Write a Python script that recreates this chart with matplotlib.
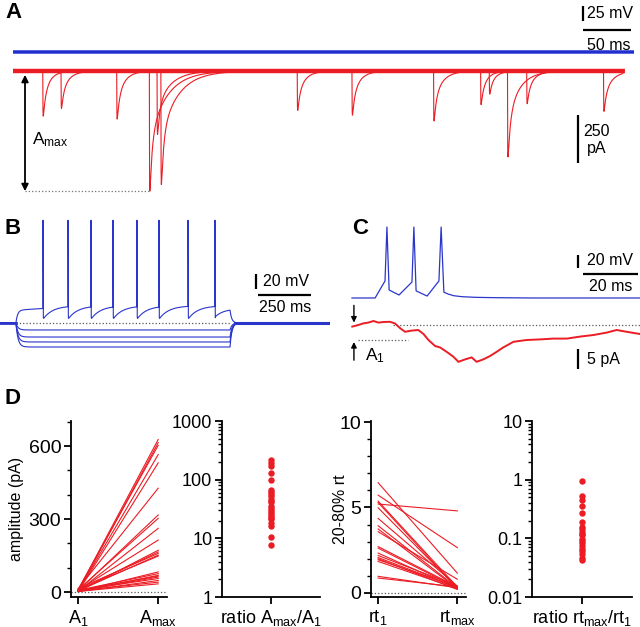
import matplotlib.pyplot as plt
import numpy as np
from matplotlib.ticker import MultipleLocator, LogLocator, NullFormatter

plt.rcParams['font.family'] = ['Liberation Sans', 'DejaVu Sans']
plt.rcParams['mathtext.fontset'] = 'custom'
plt.rcParams['mathtext.rm'] = 'Liberation Sans'
plt.rcParams['mathtext.it'] = 'Liberation Sans:italic'
plt.rcParams['mathtext.default'] = 'regular'

RED = '#ec1c24'
BLUE = '#1f2fd0'
BLUE_B = '#2a35cc'
W, H = 640, 627

# ---------------- data ----------------
# A: spontaneous EPSCs (ms, pA, slow decay ms, sweep index)
a_evt_time = [31, 296, 487, 515, 50, 142, 353, 535, 108, 154, 438, 496, 615, 150]
a_evt_amp = [235, 205, 175, 445, 195, 625, 230, 170, 250, 590, 260, 120, 210, 330]
a_evt_tau = [7, 8, 7, 12, 8, 18, 8, 8, 8, 18, 9, 7, 9, 14]
a_evt_sweep = [0, 0, 0, 0, 1, 1, 1, 1, 2, 2, 2, 2, 2, 3]
a_vm = -60

# B: current-clamp steps (ms, mV)
b_step = [75, 1085]
b_spike_times = [203, 321, 429, 533, 646, 750, 887, 1014]
b_spike_peak = 67
b_plateau = -53
b_ahp = -65
b_thr = -47
b_hyper = [-79.3, -88.7, -95.3, -102]
b_rest = -70

# C: burst and unitary EPSC (ms, mV / pA)
c_vm_t = [0, 8.4, 12.0, 12.7, 13.5, 17.1, 21.8, 22.5, 23.3, 27.3, 31.6, 32.4, 33.4,
          35, 37, 40, 45, 52, 65, 80, 104.7]
c_vm_v = [-65, -65, -38.8, 44.3, -52.7, -60.4, -40.4, 44.3, -54, -62, -38.8, 44.3, -56,
          -59, -61.5, -63, -64, -64.5, -65, -65, -65]
c_i_t = [0.1, 2.3, 4.1, 5.9, 7.8, 9.6, 11.4, 13.8, 15.6, 17.5, 19.3, 21.7, 24.1, 26.0,
         27.8, 30.2, 32.0, 34.4, 36.8, 38.7, 41.1, 43.5, 45.3, 47.7, 50.2, 52.6, 55.0,
         58.7, 63.5, 68.4, 73.2, 78.1, 82.9, 87.8, 92.6, 96.2, 99.9, 104.7]
c_i_v = [-0.4, 0, 0.4, 0.6, 1.0, 0.6, 0.75, 0.8, 0.4, -0.8, -1.7, -1.4, -1.25, -2.25,
         -3.75, -5.25, -5.6, -6.7, -7.9, -9.2, -8.6, -8.1, -9.2, -8.6, -7.75, -6.7, -5.6,
         -4.2, -3.75, -3.6, -3.4, -3.4, -2.9, -2.5, -1.9, -1.25, -1.7, -2.25]
c_a1 = -3.75

# D: amplitudes (pA), rise times (ms) and ratios
amp_1 = [8, 3, 12, 5, 2, 14, 6, 10, 4, 9, 3, 7, 15, 5, 11, 2, 8, 4, 6, 3, 7, 2, 5, 3]
amp_max = [627, 614, 603, 565, 531, 427, 317, 303, 262, 214, 172, 165, 159, 152, 148,
           83, 76, 69, 66, 62, 56, 48, 41, 34]
ratio_amp = [220, 193, 169, 130, 100, 67, 61, 53, 47, 41, 36, 31, 28, 24, 21, 16, 10.4,
             7.6, 58, 44, 33, 26, 22, 18]
rt_1 = [6.45, 5.72, 5.37, 5.29, 5.20, 4.98, 4.36, 3.93, 3.74, 3.58, 2.71, 2.62, 2.33,
        2.19, 2.07, 2.00, 1.94, 1.84, 0.97, 0.87]
rt_max = [1.16, 2.65, 0.35, 0.25, 4.80, 0.30, 0.40, 0.30, 0.25, 0.80, 0.35, 0.30, 0.25,
          0.40, 0.30, 0.20, 0.35, 0.25, 0.30, 0.35]
ratio_rt = [0.96, 0.52, 0.45, 0.36, 0.275, 0.19, 0.158, 0.143, 0.128, 0.112, 0.099,
            0.084, 0.074, 0.065, 0.055, 0.047, 0.043, 0.12, 0.09, 0.06]


def px_axes(fig, x0, y0, x1, y1):
    return fig.add_axes([x0 / W, 1 - y1 / H, (x1 - x0) / W, (y1 - y0) / H])


def bar(ax, xs, ys):
    ax.plot(xs, ys, color='k', lw=1.6, solid_capstyle='butt', clip_on=False)


fig = plt.figure(figsize=(6.4, 6.27), dpi=100)

# ---------------- A ----------------
ax_av = px_axes(fig, 13, 0, 640, 62)
ax_ai = px_axes(fig, 13, 62, 640, 200)
for ax in (ax_av, ax_ai):
    ax.set_xlim(0, 653)
    ax.axis('off')
ax_av.set_ylim(-76.7, 26.7)
ax_ai.set_ylim(-670.8, 46.8)

ta = np.arange(0, 645, 0.05)
ax_av.plot(ta, np.full_like(ta, a_vm), color=BLUE, lw=2.5)
bar(ax_av, [593.75, 593.75], [16.7, -8.3])
bar(ax_av, [594, 644], [-23.3, -23.3])
ax_av.text(598, 4.2, '25 mV', fontsize=11.5, va='center', ha='left')
ax_av.text(620, -50, '50 ms', fontsize=11.5, va='center', ha='center')

ti = ta[ta <= 635]
ax_ai.plot(ti, np.zeros_like(ti), color=RED, lw=3.2)
kgrid = np.arange(0, 3, 0.01)
for s in sorted(set(a_evt_sweep)):
    y = np.zeros_like(ti)
    for t0, amp, tau, sw in zip(a_evt_time, a_evt_amp, a_evt_tau, a_evt_sweep):
        if sw != s:
            continue
        kpk = ((1 - np.exp(-kgrid / 0.15)) * (0.5 * np.exp(-kgrid / 2.5) + 0.5 * np.exp(-kgrid / tau))).max()
        dt = ti - t0
        m = dt >= 0
        k = (1 - np.exp(-dt[m] / 0.15)) * (0.5 * np.exp(-dt[m] / 2.5) + 0.5 * np.exp(-dt[m] / tau))
        y[m] -= amp * k / kpk
    ax_ai.plot(ti, y, color=RED, lw=0.8)

ax_ai.annotate('', xy=(12.5, -625), xytext=(12.5, -20),
               arrowprops=dict(arrowstyle='<|-|>', color='k', lw=1.3,
                               shrinkA=0, shrinkB=0, mutation_scale=10))
ax_ai.plot([12.5, 142], [-625, -625], ls=':', color='0.45', lw=0.9)
ax_ai.text(20, -359, 'A$_{max}$', fontsize=12.5, va='center', ha='left')
bar(ax_ai, [588.5, 588.5], [-229, -479])
ax_ai.text(608, -359, '250\npA', fontsize=11.5, va='center', ha='center', linespacing=1.15)

# ---------------- B ----------------
ax_b = px_axes(fig, 0, 205, 330, 362)
ax_b.set_xlim(0, 1556.6)
ax_b.set_ylim(-122, 87.3)
ax_b.axis('off')
tb = np.arange(0, 1556, 0.5)
on, off = b_step
ax_b.plot(tb[tb < on + 2], np.full((tb < on + 2).sum(), b_rest), color=BLUE_B, lw=2.0)
ax_b.plot(tb[tb > off + 25], np.full((tb > off + 25).sum(), b_rest), color=BLUE_B, lw=2.2)
ax_b.plot([on, off], [b_rest, b_rest], ls=':', color='0.35', lw=0.9)

# hyperpolarising sweeps
for lvl in b_hyper:
    v = np.full_like(tb, b_rest)
    m = (tb >= on) & (tb < off)
    v[m] = b_rest + (lvl - b_rest) * (1 - np.exp(-(tb[m] - on) / 10))
    v_off = b_rest + (lvl - b_rest) * (1 - np.exp(-(off - on) / 10))
    m2 = tb >= off
    v[m2] = b_rest + (v_off - b_rest) * np.exp(-(tb[m2] - off) / 9)
    ax_b.plot(tb, v, color=BLUE_B, lw=0.8)

# depolarising sweep with spikes
seg_t, seg_v = [], []
t1 = np.arange(0, on, 0.5)
seg_t.append(t1); seg_v.append(np.full_like(t1, b_rest))
t2 = np.arange(on, b_spike_times[0], 0.5)
v2 = b_rest + (b_plateau - b_rest) * (1 - np.exp(-(t2 - on) / 8)) + \
    (b_thr - b_plateau) * (t2 - on) / (b_spike_times[0] - on) * 0.4
seg_t.append(t2); seg_v.append(v2)
ends = b_spike_times[1:] + [off]
for ts, te in zip(b_spike_times, ends):
    seg_t.append(np.array([ts, ts + 1.5])); seg_v.append(np.array([b_spike_peak, b_ahp + 2]))
    tt = np.arange(ts + 3, te, 0.5)
    if te == off:
        vv = b_ahp + 3 + (b_plateau - b_ahp - 1) * (1 - np.exp(-(tt - ts) / 40))
    else:
        vv = b_ahp + (b_thr - b_ahp) * (1 - np.exp(-(tt - ts) / 45))
    seg_t.append(tt); seg_v.append(vv)
v_end = seg_v[-1][-1]
t3 = np.arange(off, 1556, 0.5)
seg_t.append(t3); seg_v.append(b_rest + (v_end - b_rest) * np.exp(-(t3 - off) / 8))
ax_b.plot(np.concatenate(seg_t), np.concatenate(seg_v), color=BLUE_B, lw=0.8)

bar(ax_b, [1207, 1207], [-5, -25])
bar(ax_b, [1217, 1467], [-32.7, -32.7])
ax_b.text(1240, -15, '20 mV', fontsize=11.5, va='center', ha='left')
ax_b.text(1344, -50, '250 ms', fontsize=11.5, va='center', ha='center')

# ---------------- C ----------------
ax_cv = px_axes(fig, 345, 200, 640, 305)
ax_ci = px_axes(fig, 345, 305, 640, 380)
for ax in (ax_cv, ax_ci):
    ax.set_xlim(-2.545, 104.7)
    ax.axis('off')
ax_cv.set_ylim(-75.8, 85.9)
ax_ci.set_ylim(-13.75, 5)

ax_cv.plot(c_vm_t, c_vm_v, color=BLUE_B, lw=0.9)
bar(ax_cv, [82.2, 82.2], [1.2, -18.8])
bar(ax_cv, [84, 104], [-28, -28])
ax_cv.text(85.5, -7, '20 mV', fontsize=11.5, va='center', ha='left')
ax_cv.text(94.2, -48, '20 ms', fontsize=11.5, va='center', ha='center')

ax_ci.plot(c_i_t, c_i_v, color=RED, lw=1.4)
ax_ci.plot([15, 104.7], [0, 0], ls=':', color='0.35', lw=0.9)
ax_ci.plot([2.2, 20.4], [c_a1, c_a1], ls=':', color='0.35', lw=0.9)
ax_ci.annotate('', xy=(0.7, 0.6), xytext=(0.7, 4.9),
               arrowprops=dict(arrowstyle='-|>', color='k', lw=1.0,
                               shrinkA=0, shrinkB=0, mutation_scale=8), annotation_clip=False)
ax_ci.annotate('', xy=(0.7, c_a1 - 0.5), xytext=(0.7, -8.8),
               arrowprops=dict(arrowstyle='-|>', color='k', lw=1.0,
                               shrinkA=0, shrinkB=0, mutation_scale=8), annotation_clip=False)
ax_ci.text(4.7, -7.6, 'A$_1$', fontsize=12.5, va='center', ha='left')
bar(ax_ci, [82.2, 82.2], [-6, -11])
ax_ci.text(85.5, -8.6, '5 pA', fontsize=11.5, va='center', ha='left')

# ---------------- D ----------------
def style_axis(ax, tick_fs):
    for sp in ('top', 'right'):
        ax.spines[sp].set_visible(False)
    for sp in ('left', 'bottom'):
        ax.spines[sp].set_linewidth(1.3)
    ax.tick_params(which='major', direction='out', length=5, width=1.3, labelsize=tick_fs, pad=2)
    ax.tick_params(which='minor', direction='out', length=3, width=1.0)
    ax.tick_params(axis='x', labelsize=13, pad=3)


d1 = px_axes(fig, 71, 421, 167, 597)
d2 = px_axes(fig, 222, 421, 320, 597)
d3 = px_axes(fig, 371, 421, 466, 597)
d4 = px_axes(fig, 532, 421, 632, 597)

for a1, am in zip(amp_1, amp_max):
    d1.plot([0, 1], [a1, am], color=RED, lw=0.8)
d1.axhline(0, ls=':', color='0.35', lw=0.9)
d1.set_xlim(-0.09, 1.11)
d1.set_ylim(-20, 703)
d1.set_yticks([0, 300, 600])
d1.yaxis.set_minor_locator(MultipleLocator(100))
d1.set_xticks([0, 1])
d1.set_xticklabels(['A$_1$', 'A$_{max}$'])
d1.set_ylabel('amplitude (pA)', fontsize=11.5)
d1.yaxis.set_label_coords(-0.49, 0.5)
style_axis(d1, 14)

d2.plot(np.zeros(len(ratio_amp)), ratio_amp, 'o', color=RED, ms=4.6, mec='none')
d2.set_yscale('log')
d2.set_ylim(1, 1000)
d2.set_xlim(-1, 1)
d2.set_yticks([1, 10, 100, 1000])
d2.set_yticklabels(['1', '10', '100', '1000'])
d2.yaxis.set_minor_locator(LogLocator(base=10, subs=np.arange(2, 10)))
d2.yaxis.set_minor_formatter(NullFormatter())
d2.set_xticks([0])
d2.set_xticklabels(['ratio A$_{max}$/A$_1$'])
style_axis(d2, 13)

for r1, rm in zip(rt_1, rt_max):
    d3.plot([0, 1], [r1, rm], color=RED, lw=0.8)
d3.axhline(0, ls=':', color='0.35', lw=0.9)
d3.set_xlim(-0.09, 1.11)
d3.set_ylim(-0.24, 10.06)
d3.set_yticks([0, 5, 10])
d3.yaxis.set_minor_locator(MultipleLocator(1))
d3.set_xticks([0, 1])
d3.set_xticklabels(['rt$_1$', 'rt$_{max}$'])
d3.set_ylabel('20-80% rt', fontsize=11.5)
d3.yaxis.set_label_coords(-0.24, 0.5)
style_axis(d3, 14)

d4.plot(np.zeros(len(ratio_rt)), ratio_rt, 'o', color=RED, ms=4.6, mec='none')
d4.set_yscale('log')
d4.set_ylim(0.01, 10)
d4.set_xlim(-1, 1)
d4.set_yticks([0.01, 0.1, 1, 10])
d4.set_yticklabels(['0.01', '0.1', '1', '10'])
d4.yaxis.set_minor_locator(LogLocator(base=10, subs=np.arange(2, 10)))
d4.yaxis.set_minor_formatter(NullFormatter())
d4.set_xticks([0])
d4.set_xticklabels(['ratio rt$_{max}$/rt$_1$'])
style_axis(d4, 13)

# panel letters
for lab, x, y in [('A', 5, 13), ('B', 5, 228), ('C', 352, 228), ('D', 5, 398)]:
    fig.text(x / W, 1 - y / H, lab, fontsize=16, fontweight='bold', va='center', ha='left')

fig.savefig('out.png', dpi=100, facecolor='white')
